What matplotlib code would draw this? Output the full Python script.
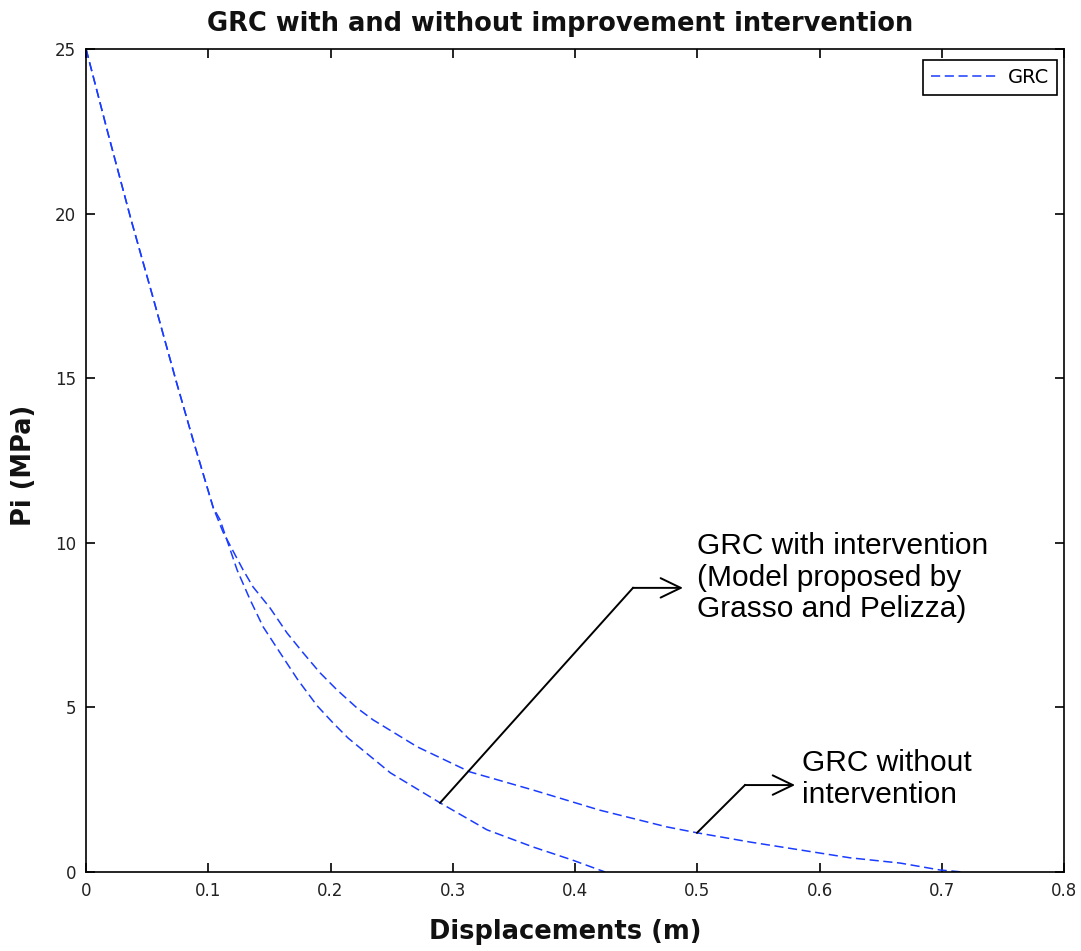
import numpy as np
import matplotlib
matplotlib.use("Agg")
import matplotlib.pyplot as plt

# GRC without intervention (upper curve)
x_without = [0.0, 0.018, 0.037, 0.055, 0.074, 0.0875, 0.104, 0.112, 0.1284, 0.1366,
             0.1505, 0.1644, 0.1775, 0.1914, 0.2053, 0.2217, 0.2348, 0.271, 0.314,
             0.3656, 0.420, 0.475, 0.4998, 0.543, 0.584, 0.625, 0.666, 0.6986, 0.7166]
p_without = [25.0, 22.43, 19.79, 17.42, 14.87, 13.13, 11.07, 10.33, 9.18, 8.66,
             8.02, 7.26, 6.66, 6.05, 5.53, 4.98, 4.62, 3.80, 3.04,
             2.49, 1.88, 1.37, 1.19, 0.91, 0.67, 0.43, 0.27, 0.06, 0.0]

# GRC with intervention (lower curve)
x_with = [0.0, 0.018, 0.037, 0.055, 0.074, 0.0875, 0.104, 0.1096, 0.1235, 0.1342,
          0.1448, 0.1571, 0.173, 0.189, 0.2020, 0.2143, 0.249, 0.2896, 0.328,
          0.3656, 0.398, 0.4245]
p_with = [25.0, 22.43, 19.79, 17.42, 14.87, 13.13, 11.07, 10.70, 9.18, 8.27,
          7.45, 6.75, 5.85, 5.05, 4.53, 4.07, 3.01, 2.10, 1.28,
          0.76, 0.36, 0.0]

xticks = [0, 0.1, 0.2, 0.3, 0.4, 0.5, 0.6, 0.7, 0.8]
xticklabels = ['0', '0.1', '0.2', '0.3', '0.4', '0.5', '0.6', '0.7', '0.8']
yticks = [0, 5, 10, 15, 20, 25]

plt.rcParams['font.family'] = 'DejaVu Sans'

fig = plt.figure(figsize=(10.81, 9.51), dpi=100)
ax = fig.add_axes([0.0796, 0.0831, 0.9047, 0.8654])

line_color = '#1a3cff'
ax.plot(x_without, p_without, color=line_color, lw=1.1, dashes=(6, 3), label='GRC')
ax.plot(x_with, p_with, color=line_color, lw=1.1, dashes=(6, 3))

ax.set_xlim(0, 0.8)
ax.set_ylim(0, 25)
ax.set_xticks(xticks)
ax.set_xticklabels(xticklabels)
ax.set_yticks(yticks)
ax.tick_params(direction='in', length=6.5, width=1.2, top=True, right=True,
               labelsize=12, labelcolor='#222222', pad=7)
for s in ax.spines.values():
    s.set_linewidth(1.2)

ax.set_title('GRC with and without improvement intervention', fontsize=18.5,
             fontweight='bold', x=0.485, pad=13, color='#111111')
ax.set_xlabel('Displacements (m)', fontsize=18.5, fontweight='bold',
              labelpad=14, color='#111111')
ax.xaxis.label.set_x(0.49)
ax.set_ylabel('Pi (MPa)', fontsize=18.5, fontweight='bold', color='#111111')
ax.yaxis.set_label_coords(-0.0501, 0.4945)

leg = ax.legend(loc='upper right', bbox_to_anchor=(0.9928, 0.9866),
                borderaxespad=0, fancybox=False, edgecolor='black',
                handlelength=3.45, handletextpad=0.5, fontsize=14,
                framealpha=1, borderpad=0.42)
leg.get_frame().set_linewidth(1.2)

# annotations: (start on curve, elbow, arrow tip)
ann_font = ['Liberation Sans', 'DejaVu Sans']
head = '->,head_length=1.45,head_width=0.7'

a1 = [(0.2896, 2.10), (0.4474, 8.63), (0.4883, 8.63)]
ax.plot([a1[0][0], a1[1][0]], [a1[0][1], a1[1][1]], color='black', lw=1.4)
ax.annotate('', xy=a1[2], xytext=a1[1],
            arrowprops=dict(arrowstyle=head, color='black', lw=1.4,
                            shrinkA=0, shrinkB=0))
ax.text(0.4995, 8.94, 'GRC with intervention\n(Model proposed by\nGrasso and Pelizza)',
        fontsize=21.5, family=ann_font, ha='left', va='center', linespacing=1.16)

a2 = [(0.4998, 1.19), (0.539, 2.64), (0.580, 2.64)]
ax.plot([a2[0][0], a2[1][0]], [a2[0][1], a2[1][1]], color='black', lw=1.4)
ax.annotate('', xy=a2[2], xytext=a2[1],
            arrowprops=dict(arrowstyle=head, color='black', lw=1.4,
                            shrinkA=0, shrinkB=0))
ax.text(0.5857, 2.83, 'GRC without\nintervention',
        fontsize=21.5, family=ann_font, ha='left', va='center', linespacing=1.16)

fig.savefig('out.png', dpi=100)
